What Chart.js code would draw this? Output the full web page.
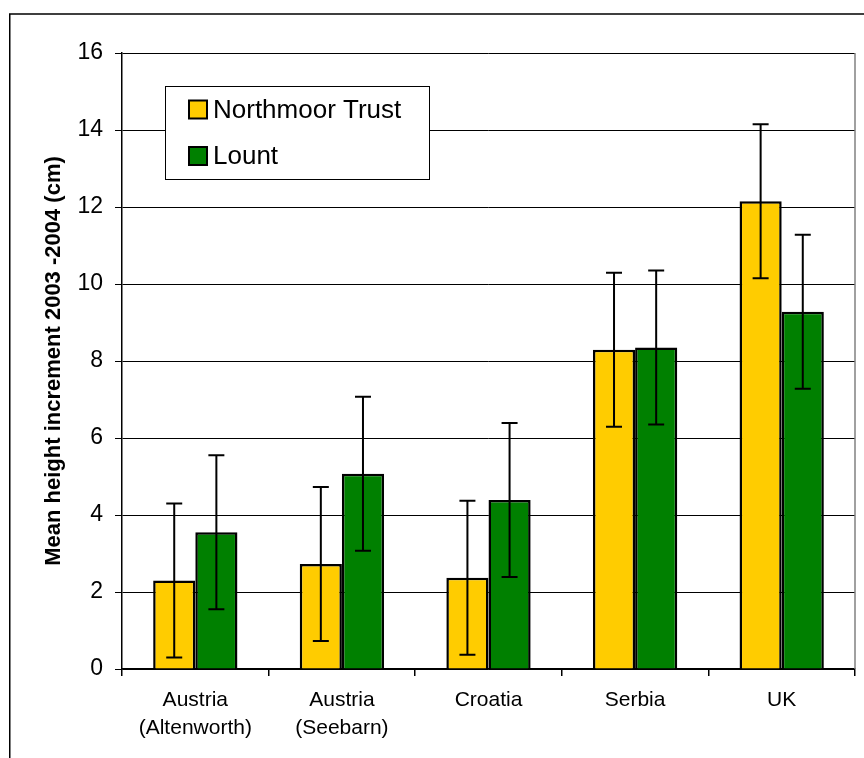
<!DOCTYPE html>
<html>
<head>
<meta charset="utf-8">
<title>Mean height increment</title>
<script src="https://cdn.jsdelivr.net/npm/chart.js@4"></script>
<style>
    body { margin: 0; background: #fff; }
    #wrap { width: 864px; height: 758px; position: relative; }
</style>
</head>
<body>
<div id="wrap"><canvas id="chart"></canvas></div>
<script>
// =================== DATA =================== //
const categories = [['Austria', '(Altenworth)'], ['Austria', '(Seebarn)'], 'Croatia', 'Serbia', 'UK'];
const northmoor = [2.3, 2.73, 2.37, 8.29, 12.15];
const northmoorErr = [2, 2, 2, 2, 2];
const lount = [3.55, 5.07, 4.39, 8.35, 9.28];
const lountErr = [2, 2, 2, 2, 2];
const yTicks = [0, 2, 4, 6, 8, 10, 12, 14, 16];

const FONT = "'Liberation Sans', Arial, sans-serif";

// =================== PLUGINS =================== //

// outer frame + right border of plot area
const framePlugin = {
    id: 'frame',
    beforeDraw(chart) {
        const ctx = chart.ctx;
        ctx.save();
        ctx.fillStyle = '#fff';
        ctx.fillRect(0, 0, chart.width, chart.height);
        ctx.strokeStyle = '#000';
        ctx.lineWidth = 1.5;
        ctx.strokeRect(9.75, 14, chart.width + 20, chart.height + 20);
        ctx.restore();
    },
    afterDraw(chart) {
        const { ctx, chartArea } = chart;
        ctx.save();
        ctx.strokeStyle = '#808080';
        ctx.lineWidth = 1.5;
        ctx.beginPath();
        ctx.moveTo(chartArea.right, chartArea.top);
        ctx.lineTo(chartArea.right, chartArea.bottom);
        ctx.stroke();
        ctx.restore();
    }
};

// error bars taken from each dataset's errors array
const errorBarPlugin = {
    id: 'errorBars',
    afterDatasetsDraw(chart) {
        const ctx = chart.ctx;
        const yScale = chart.scales.y;
        ctx.save();
        ctx.strokeStyle = '#000';
        ctx.lineWidth = 2;
        chart.data.datasets.forEach((ds, i) => {
            const meta = chart.getDatasetMeta(i);
            meta.data.forEach((bar, j) => {
                const v = ds.data[j];
                const e = ds.errors[j];
                const top = yScale.getPixelForValue(v + e);
                const bottom = yScale.getPixelForValue(v - e);
                ctx.beginPath();
                ctx.moveTo(bar.x, top);
                ctx.lineTo(bar.x, bottom);
                ctx.moveTo(bar.x - 8, top);
                ctx.lineTo(bar.x + 8, top);
                ctx.moveTo(bar.x - 8, bottom);
                ctx.lineTo(bar.x + 8, bottom);
                ctx.stroke();
            });
        });
        ctx.restore();
    }
};

// boxed legend inside the plot area
const boxLegendPlugin = {
    id: 'boxLegend',
    afterDraw(chart) {
        const { ctx, chartArea } = chart;
        const x = chartArea.left + 43;
        const y = chartArea.top + 33;
        ctx.save();
        ctx.fillStyle = '#fff';
        ctx.fillRect(x, y, 264, 93);
        ctx.strokeStyle = '#000';
        ctx.lineWidth = 1;
        ctx.strokeRect(x + 0.5, y + 0.5, 264, 93);
        ctx.font = '26px ' + FONT;
        ctx.textBaseline = 'middle';
        chart.data.datasets.forEach((ds, i) => {
            const cy = y + 23.5 + i * 46.5;
            ctx.fillStyle = ds.backgroundColor;
            ctx.fillRect(x + 24, cy - 9, 18, 18);
            ctx.lineWidth = 2;
            ctx.strokeRect(x + 24, cy - 9, 18, 18);
            ctx.fillStyle = '#000';
            ctx.fillText(ds.label, x + 48, cy + 1);
        });
        ctx.restore();
    }
};

// =================== CHART =================== //
new Chart(document.getElementById('chart'), {
    type: 'bar',
    data: {
        labels: categories,
        datasets: [
            {
                label: 'Northmoor Trust',
                data: northmoor,
                errors: northmoorErr,
                backgroundColor: '#FFCC00',
                borderColor: '#000',
                borderWidth: 2.5,
                categoryPercentage: 0.575,
                barPercentage: 1
            },
            {
                label: 'Lount',
                data: lount,
                errors: lountErr,
                backgroundColor: '#008000',
                borderColor: '#000',
                borderWidth: 2.5,
                categoryPercentage: 0.575,
                barPercentage: 1
            }
        ]
    },
    options: {
        responsive: true,
        maintainAspectRatio: false,
        animation: false,
        devicePixelRatio: 1,
        layout: { padding: { left: 10, right: 9, top: 53, bottom: 0 } },
        plugins: {
            legend: { display: false },
            tooltip: { enabled: false }
        },
        scales: {
            x: {
                grid: { drawOnChartArea: false, drawTicks: true, tickLength: 7, color: '#000', lineWidth: 1.5 },
                border: { color: '#000', width: 1.5 },
                ticks: {
                    color: '#000',
                    padding: 11,
                    maxRotation: 0,
                    font: { family: FONT, size: 21, lineHeight: 1.3 }
                },
                afterFit(scale) { scale.height = 89; }
            },
            y: {
                min: 0,
                max: 16,
                afterBuildTicks(scale) { scale.ticks = yTicks.map(v => ({ value: v })); },
                grid: { color: '#000', lineWidth: 1, tickLength: 7 },
                border: { color: '#000', width: 1.5 },
                ticks: {
                    color: '#000',
                    padding: 12,
                    font: { family: FONT, size: 23 }
                },
                title: {
                    display: true,
                    text: 'Mean height increment 2003 -2004 (cm)',
                    color: '#000',
                    padding: { top: 31, bottom: 0 },
                    font: { family: FONT, size: 22, weight: 'bold' }
                },
                afterFit(scale) { scale.width = 112; }
            }
        }
    },
    plugins: [framePlugin, errorBarPlugin, boxLegendPlugin]
});
</script>
</body>
</html>
